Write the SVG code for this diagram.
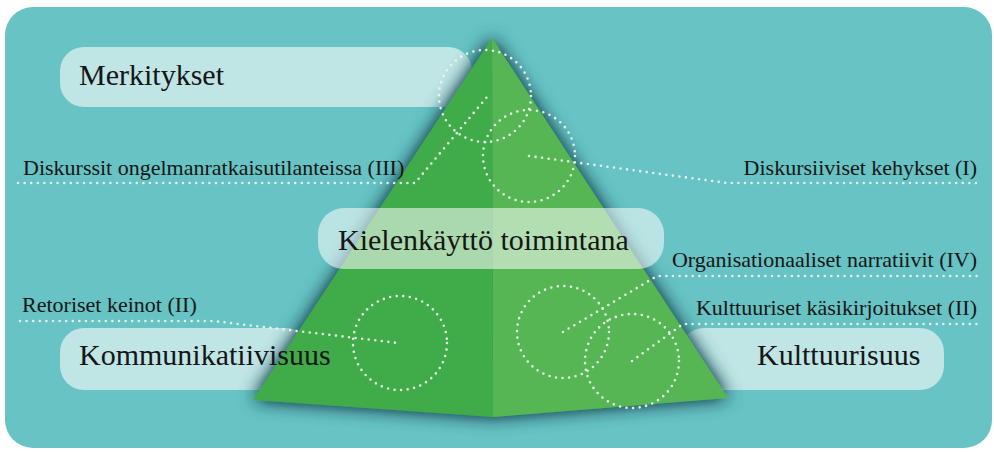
<svg xmlns="http://www.w3.org/2000/svg" width="994" height="452" viewBox="0 0 994 452">
  <defs>
    <filter id="glow" x="-20%" y="-20%" width="140%" height="140%">
      <feGaussianBlur in="SourceAlpha" stdDeviation="9" result="b"/>
      <feComponentTransfer in="b" result="b2">
        <feFuncA type="linear" slope="1.5"/>
      </feComponentTransfer>
      <feFlood flood-color="#1a4f5a" flood-opacity="0.95"/>
      <feComposite in2="b2" operator="in" result="s"/>
      <feMerge>
        <feMergeNode in="s"/>
        <feMergeNode in="SourceGraphic"/>
      </feMerge>
    </filter>
  </defs>
  <style>
    .pill { fill: #bfe5e5; }
    .pillT { fill: #ffffff; fill-opacity: 0.55; }
    .big { font-family: "Liberation Serif", "Times New Roman", serif; font-size: 30px; fill: #161616; }
    .small { font-family: "Liberation Serif", "Times New Roman", serif; font-size: 22px; fill: #161616; }
    .dots { fill: none; stroke: #eef4ee; stroke-width: 2.6; stroke-linecap: round; stroke-dasharray: 0 6.6; stroke-opacity: 0.95; }
  </style>

  <rect id="background" x="5" y="7" width="987" height="441" rx="28" fill="#67c3c4"/>

  <g id="pill-merkitykset">
    <rect class="pill" x="60" y="47" width="412" height="60" rx="24"/>
  </g>
  <g id="pill-kommunikatiivisuus">
    <rect class="pill" x="60" y="328" width="250" height="62" rx="24"/>
  </g>
  <g id="pill-kulttuurisuus">
    <rect class="pill" x="680" y="328" width="264" height="62" rx="24"/>
  </g>

  <g id="pyramid" filter="url(#glow)">
    <polygon points="492,38 253,400 493,417" fill="#40ab49"/>
    <polygon points="492,38 493,417 728,398" fill="#54b653"/>
  </g>

  <g id="connectors">
    <circle class="dots" cx="485" cy="96" r="46"/>
    <circle class="dots" cx="529" cy="156" r="46"/>
    <circle class="dots" cx="400" cy="343" r="47"/>
    <circle class="dots" cx="563" cy="332" r="46"/>
    <circle class="dots" cx="632" cy="361" r="47"/>
    <polyline class="dots" points="18,183 415,183 487,97"/>
    <polyline class="dots" points="529,156 727,183 979,183"/>
    <polyline class="dots" points="20,321 213,321 398,343"/>
    <polyline class="dots" points="563,332 657,276 979,276"/>
    <polyline class="dots" points="632,361 683,324 979,324"/>
  </g>

  <g id="pill-kielenkaytto">
    <rect class="pillT" x="318" y="208" width="346" height="61" rx="26"/>
    <text class="big" x="338" y="250">Kielenkäyttö toimintana</text>
  </g>

  <g id="label-merkitykset">
    <text class="big" x="79" y="85">Merkitykset</text>
  </g>
  <g id="label-kommunikatiivisuus">
    <text class="big" x="79" y="365">Kommunikatiivisuus</text>
  </g>
  <g id="label-kulttuurisuus">
    <text class="big" x="757" y="365">Kulttuurisuus</text>
  </g>
  <g id="label-diskurssit">
    <text class="small" x="23" y="175">Diskurssit ongelmanratkaisutilanteissa (III)</text>
  </g>
  <g id="label-retoriset">
    <text class="small" x="22" y="312">Retoriset keinot (II)</text>
  </g>
  <g id="label-diskursiiviset">
    <text class="small" x="977" y="175" text-anchor="end">Diskursiiviset kehykset (I)</text>
  </g>
  <g id="label-organisationaaliset">
    <text class="small" x="977" y="267" text-anchor="end">Organisationaaliset narratiivit (IV)</text>
  </g>
  <g id="label-kulttuuriset">
    <text class="small" x="977" y="315" text-anchor="end">Kulttuuriset käsikirjoitukset (II)</text>
  </g>
</svg>
